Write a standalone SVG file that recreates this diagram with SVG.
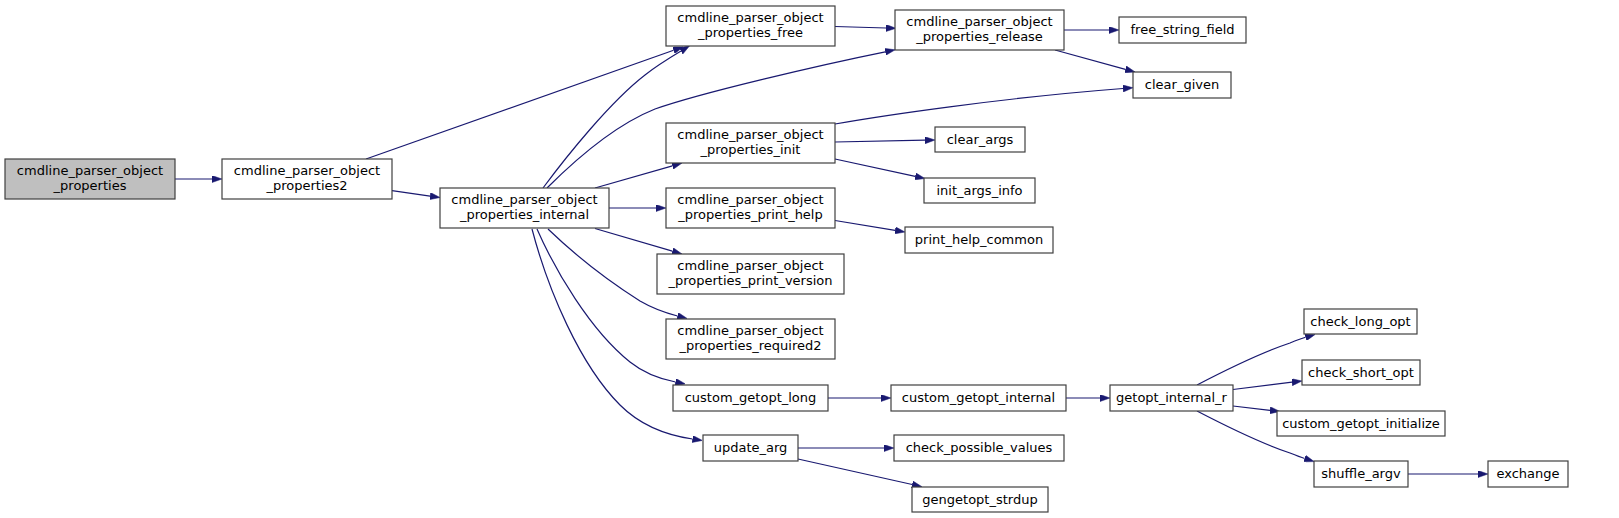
<svg xmlns="http://www.w3.org/2000/svg" width="1619" height="518" viewBox="0 0 1619 518">
<style>
.n rect{fill:#ffffff;stroke:#404040;stroke-width:1.2}
.n.root rect{fill:#bfbfbf}
.n text{font-family:"DejaVu Sans","Liberation Sans",sans-serif;font-size:13px;fill:#000;text-anchor:middle}
.e path{fill:none;stroke:#191970;stroke-width:1.2;marker-end:url(#ah)}
</style>
<defs>
<marker id="ah" viewBox="0 0 10 7" refX="0" refY="3.5" markerWidth="10" markerHeight="7" markerUnits="userSpaceOnUse" orient="auto">
<path d="M0,0 L10,3.5 L0,7 z" fill="#191970" stroke="#191970" stroke-width="0.5"/>
</marker>
</defs>
<rect width="1619" height="518" fill="#ffffff"/>
<g id="edges" class="e">
<path d="M175,179 L212,179"/>
<path d="M366,159 L673.6,50.3"/>
<path d="M392,190.7 L430.1,196.1"/>
<path d="M543,188 C566,157 610,102 645,75 C655,67 666,60 681,51"/>
<path d="M547,188 C575,160 615,125 655,109 C700,93 820,65 885.3,51.8"/>
<path d="M595,188 L672.4,165.8"/>
<path d="M609,208 L656,208"/>
<path d="M595,228.5 L672.4,251.2"/>
<path d="M548,229 C575,255 610,282 640,301 C652,308 666,313 677.5,316"/>
<path d="M537,229 C555,270 590,330 630,362 C645,374 660,379 675.5,382"/>
<path d="M532,229 C548,290 580,365 620,405 C640,425 665,435 692.5,439"/>
<path d="M835,26.5 L886,28"/>
<path d="M1064,30 L1109,30"/>
<path d="M1055,50 L1125.4,69.3"/>
<path d="M835,124 C880,116 1000,98 1123,88.5"/>
<path d="M835,142 L925,140.2"/>
<path d="M835,159 L915.2,176.4"/>
<path d="M835,220.5 L895.1,230.4"/>
<path d="M828,398 L881,398"/>
<path d="M1066,398 L1100,398"/>
<path d="M1197,385 C1222,372 1260,353 1290,343 C1295,341 1300,339 1305.6,337.3"/>
<path d="M1233,389.5 L1292,382.2"/>
<path d="M1233,406 L1270,410.3"/>
<path d="M1197,411 C1222,424 1260,443 1290,453 C1295,455 1300,457 1304.6,458.5"/>
<path d="M1408,474 L1478,474"/>
<path d="M798,448 L884,448"/>
<path d="M798,459 L912.2,484.5"/>
</g>
<g id="n0" class="n root"><rect x="5" y="159" width="170" height="40"/><text x="90" y="175">cmdline_parser_object</text><text x="90" y="190">_properties</text></g>
<g id="n1" class="n"><rect x="222" y="159" width="170" height="40"/><text x="307" y="175">cmdline_parser_object</text><text x="307" y="190">_properties2</text></g>
<g id="n2" class="n"><rect x="440" y="188" width="169" height="40"/><text x="524.5" y="204">cmdline_parser_object</text><text x="524.5" y="219">_properties_internal</text></g>
<g id="n3" class="n"><rect x="666" y="6" width="169" height="40"/><text x="750.5" y="22">cmdline_parser_object</text><text x="750.5" y="37">_properties_free</text></g>
<g id="n4" class="n"><rect x="895" y="10" width="169" height="40"/><text x="979.5" y="26">cmdline_parser_object</text><text x="979.5" y="41">_properties_release</text></g>
<g id="n5" class="n"><rect x="1119" y="17" width="127" height="26"/><text x="1182.5" y="34">free_string_field</text></g>
<g id="n6" class="n"><rect x="1133" y="72" width="98" height="26"/><text x="1182" y="89">clear_given</text></g>
<g id="n7" class="n"><rect x="666" y="123" width="169" height="40"/><text x="750.5" y="139">cmdline_parser_object</text><text x="750.5" y="154">_properties_init</text></g>
<g id="n8" class="n"><rect x="935" y="127" width="90" height="25"/><text x="980" y="144">clear_args</text></g>
<g id="n9" class="n"><rect x="924" y="178" width="111" height="25"/><text x="979.5" y="195">init_args_info</text></g>
<g id="n10" class="n"><rect x="666" y="188" width="169" height="40"/><text x="750.5" y="204">cmdline_parser_object</text><text x="750.5" y="219">_properties_print_help</text></g>
<g id="n11" class="n"><rect x="905" y="227" width="148" height="26"/><text x="979" y="244">print_help_common</text></g>
<g id="n12" class="n"><rect x="657" y="254" width="187" height="40"/><text x="750.5" y="270">cmdline_parser_object</text><text x="750.5" y="285">_properties_print_version</text></g>
<g id="n13" class="n"><rect x="666" y="319" width="169" height="40"/><text x="750.5" y="335">cmdline_parser_object</text><text x="750.5" y="350">_properties_required2</text></g>
<g id="n14" class="n"><rect x="673" y="385" width="155" height="26"/><text x="750.5" y="402">custom_getopt_long</text></g>
<g id="n15" class="n"><rect x="891" y="385" width="175" height="26"/><text x="978.5" y="402">custom_getopt_internal</text></g>
<g id="n16" class="n"><rect x="1110" y="385" width="123" height="26"/><text x="1171.5" y="402">getopt_internal_r</text></g>
<g id="n17" class="n"><rect x="1304" y="309" width="113" height="25"/><text x="1360.5" y="326">check_long_opt</text></g>
<g id="n18" class="n"><rect x="1302" y="360" width="118" height="25"/><text x="1361" y="377">check_short_opt</text></g>
<g id="n19" class="n"><rect x="1277" y="411" width="168" height="25"/><text x="1361" y="428">custom_getopt_initialize</text></g>
<g id="n20" class="n"><rect x="1314" y="461" width="94" height="26"/><text x="1361" y="478">shuffle_argv</text></g>
<g id="n21" class="n"><rect x="1488" y="461" width="80" height="26"/><text x="1528" y="478">exchange</text></g>
<g id="n22" class="n"><rect x="703" y="435" width="95" height="26"/><text x="750.5" y="452">update_arg</text></g>
<g id="n23" class="n"><rect x="894" y="435" width="170" height="26"/><text x="979" y="452">check_possible_values</text></g>
<g id="n24" class="n"><rect x="912" y="487" width="136" height="25"/><text x="980" y="504">gengetopt_strdup</text></g>
</svg>
